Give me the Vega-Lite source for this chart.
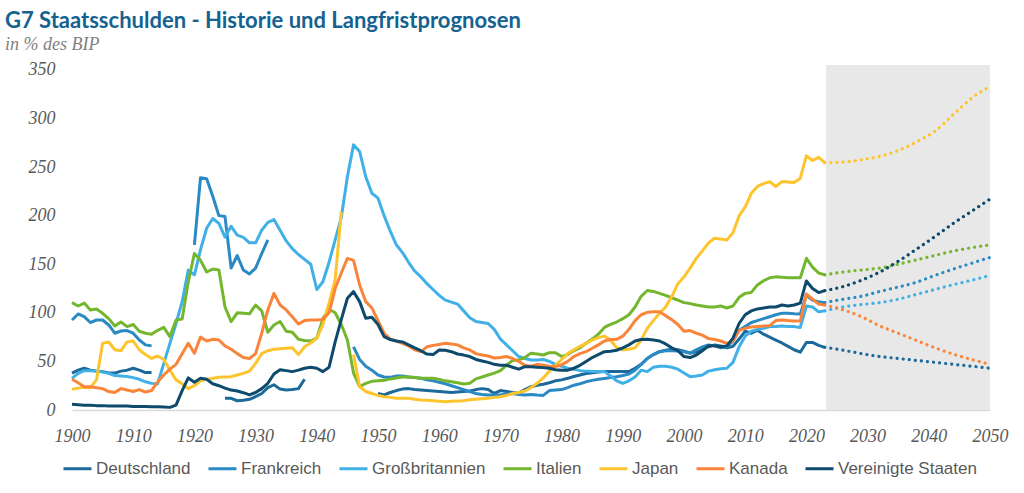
{
"$schema": "https://vega.github.io/schema/vega-lite/v6.json",
"width": 918, "height": 345,
"autosize": {"type": "none"},
"padding": {"left": 72, "top": 65, "right": 34, "bottom": 83},
"background": "white",
"title": {"text": "G7 Staatsschulden - Historie und Langfristprognosen", "subtitle": "in % des BIP", "anchor": "start", "frame": "group", "dx": -67, "offset": 6, "font": "Lato", "fontSize": 22, "fontWeight": "bold", "color": "#14628f", "subtitleFont": "Liberation Serif", "subtitleFontStyle": "italic", "subtitleFontSize": 18, "subtitleColor": "#7f7f7f", "subtitlePadding": 3},
"config": {"view": {"stroke": null}},
"datasets": {
"hist": [
{"Jahr":1900,"Deutschland":38,"Frankreich":92.6,"Großbritannien":32.6,"Italien":110.5,"Japan":21.3,"Kanada":31.6,"Vereinigte Staaten":6},
{"Jahr":1901,"Deutschland":41,"Frankreich":98.8,"Großbritannien":37.7,"Italien":107,"Japan":22.5,"Kanada":28,"Vereinigte Staaten":5.5},
{"Jahr":1902,"Deutschland":43,"Frankreich":96,"Großbritannien":40.5,"Italien":110,"Japan":23.3,"Kanada":24,"Vereinigte Staaten":5},
{"Jahr":1903,"Deutschland":41,"Frankreich":90,"Großbritannien":40.5,"Italien":103,"Japan":23,"Kanada":24,"Vereinigte Staaten":5},
{"Jahr":1904,"Deutschland":40,"Frankreich":92.6,"Großbritannien":40,"Italien":104,"Japan":31,"Kanada":23,"Vereinigte Staaten":4.5},
{"Jahr":1905,"Deutschland":39.5,"Frankreich":92.6,"Großbritannien":39,"Italien":99.5,"Japan":68.6,"Kanada":22,"Vereinigte Staaten":4.5},
{"Jahr":1906,"Deutschland":38,"Frankreich":87.5,"Großbritannien":37.7,"Italien":94,"Japan":70,"Kanada":19,"Vereinigte Staaten":4},
{"Jahr":1907,"Deutschland":38,"Frankreich":79,"Großbritannien":35.5,"Italien":86.5,"Japan":62,"Kanada":18,"Vereinigte Staaten":4},
{"Jahr":1908,"Deutschland":40,"Frankreich":81.3,"Großbritannien":35,"Italien":90.6,"Japan":61,"Kanada":22,"Vereinigte Staaten":4},
{"Jahr":1909,"Deutschland":41,"Frankreich":81.7,"Großbritannien":34.5,"Italien":85.8,"Japan":70,"Kanada":20.6,"Vereinigte Staaten":4},
{"Jahr":1910,"Deutschland":43,"Frankreich":79,"Großbritannien":33.3,"Italien":88,"Japan":71,"Kanada":19,"Vereinigte Staaten":3.5},
{"Jahr":1911,"Deutschland":41,"Frankreich":72,"Großbritannien":31.6,"Italien":81,"Japan":62,"Kanada":21,"Vereinigte Staaten":3.5},
{"Jahr":1912,"Deutschland":38.5,"Frankreich":67,"Großbritannien":29,"Italien":79,"Japan":57,"Kanada":18.5,"Vereinigte Staaten":3.5},
{"Jahr":1913,"Deutschland":38.5,"Frankreich":66,"Großbritannien":27.4,"Italien":78,"Japan":53,"Kanada":20,"Vereinigte Staaten":3.3},
{"Jahr":1914,"Deutschland":null,"Frankreich":null,"Großbritannien":27,"Italien":82,"Japan":55.6,"Kanada":29,"Vereinigte Staaten":3.3},
{"Jahr":1915,"Deutschland":null,"Frankreich":null,"Großbritannien":48,"Italien":85,"Japan":52,"Kanada":36,"Vereinigte Staaten":3},
{"Jahr":1916,"Deutschland":null,"Frankreich":null,"Großbritannien":68.6,"Italien":75.5,"Japan":41,"Kanada":42,"Vereinigte Staaten":2.7},
{"Jahr":1917,"Deutschland":null,"Frankreich":null,"Großbritannien":89,"Italien":92.6,"Japan":31,"Kanada":47,"Vereinigte Staaten":5},
{"Jahr":1918,"Deutschland":null,"Frankreich":null,"Großbritannien":111.5,"Italien":93.7,"Japan":27,"Kanada":58,"Vereinigte Staaten":20},
{"Jahr":1919,"Deutschland":null,"Frankreich":null,"Großbritannien":144,"Italien":132,"Japan":22,"Kanada":68.6,"Vereinigte Staaten":33},
{"Jahr":1920,"Deutschland":null,"Frankreich":170,"Großbritannien":139,"Italien":161,"Japan":25,"Kanada":58.3,"Vereinigte Staaten":28.5},
{"Jahr":1921,"Deutschland":null,"Frankreich":239,"Großbritannien":165,"Italien":154,"Japan":30,"Kanada":75,"Vereinigte Staaten":32.6},
{"Jahr":1922,"Deutschland":null,"Frankreich":238,"Großbritannien":187,"Italien":142,"Japan":31.5,"Kanada":71,"Vereinigte Staaten":31.6},
{"Jahr":1923,"Deutschland":null,"Frankreich":220,"Großbritannien":197,"Italien":145,"Japan":32.6,"Kanada":72.7,"Vereinigte Staaten":27},
{"Jahr":1924,"Deutschland":null,"Frankreich":200,"Großbritannien":192,"Italien":144,"Japan":33.6,"Kanada":72,"Vereinigte Staaten":25},
{"Jahr":1925,"Deutschland":12,"Frankreich":199,"Großbritannien":178,"Italien":106,"Japan":34,"Kanada":66,"Vereinigte Staaten":22.5},
{"Jahr":1926,"Deutschland":12,"Frankreich":146,"Großbritannien":189,"Italien":91,"Japan":34.3,"Kanada":62.5,"Vereinigte Staaten":20.5},
{"Jahr":1927,"Deutschland":9.5,"Frankreich":159,"Großbritannien":180,"Italien":100,"Japan":36,"Kanada":58,"Vereinigte Staaten":19.5},
{"Jahr":1928,"Deutschland":10,"Frankreich":144,"Großbritannien":177.7,"Italien":99.5,"Japan":37.7,"Kanada":54,"Vereinigte Staaten":17.8},
{"Jahr":1929,"Deutschland":11,"Frankreich":140,"Großbritannien":172,"Italien":99,"Japan":40,"Kanada":53,"Vereinigte Staaten":15.5},
{"Jahr":1930,"Deutschland":13.7,"Frankreich":146,"Großbritannien":172,"Italien":108,"Japan":48,"Kanada":58,"Vereinigte Staaten":18},
{"Jahr":1931,"Deutschland":17,"Frankreich":161,"Großbritannien":185,"Italien":102,"Japan":58,"Kanada":79,"Vereinigte Staaten":22},
{"Jahr":1932,"Deutschland":23,"Frankreich":175,"Großbritannien":193,"Italien":80,"Japan":61,"Kanada":103,"Vereinigte Staaten":27.5},
{"Jahr":1933,"Deutschland":26,"Frankreich":null,"Großbritannien":196,"Italien":87.5,"Japan":62.5,"Kanada":120,"Vereinigte Staaten":37},
{"Jahr":1934,"Deutschland":21.5,"Frankreich":null,"Großbritannien":185,"Italien":91,"Japan":63,"Kanada":108,"Vereinigte Staaten":41.5},
{"Jahr":1935,"Deutschland":20.6,"Frankreich":null,"Großbritannien":174,"Italien":81,"Japan":63.5,"Kanada":103,"Vereinigte Staaten":40.5},
{"Jahr":1936,"Deutschland":21,"Frankreich":null,"Großbritannien":166,"Italien":80,"Japan":64,"Kanada":96,"Vereinigte Staaten":39.5},
{"Jahr":1937,"Deutschland":22,"Frankreich":null,"Großbritannien":160,"Italien":72.7,"Japan":57,"Kanada":88.5,"Vereinigte Staaten":41},
{"Jahr":1938,"Deutschland":31.6,"Frankreich":null,"Großbritannien":155,"Italien":71.5,"Japan":65,"Kanada":92,"Vereinigte Staaten":43},
{"Jahr":1939,"Deutschland":null,"Frankreich":null,"Großbritannien":150,"Italien":71,"Japan":69,"Kanada":92.6,"Vereinigte Staaten":44},
{"Jahr":1940,"Deutschland":null,"Frankreich":null,"Großbritannien":124,"Italien":74,"Japan":73.8,"Kanada":92.6,"Vereinigte Staaten":43},
{"Jahr":1941,"Deutschland":null,"Frankreich":null,"Großbritannien":132,"Italien":94,"Japan":88,"Kanada":93,"Vereinigte Staaten":39.5},
{"Jahr":1942,"Deutschland":null,"Frankreich":null,"Großbritannien":152,"Italien":103.6,"Japan":110,"Kanada":100,"Vereinigte Staaten":44},
{"Jahr":1943,"Deutschland":null,"Frankreich":null,"Großbritannien":175,"Italien":100,"Japan":134,"Kanada":125,"Vereinigte Staaten":70},
{"Jahr":1944,"Deutschland":null,"Frankreich":null,"Großbritannien":198,"Italien":88,"Japan":204,"Kanada":141,"Vereinigte Staaten":93},
{"Jahr":1945,"Deutschland":null,"Frankreich":null,"Großbritannien":240,"Italien":72,"Japan":null,"Kanada":156,"Vereinigte Staaten":115},
{"Jahr":1946,"Deutschland":null,"Frankreich":65,"Großbritannien":272.8,"Italien":38,"Japan":57,"Kanada":154,"Vereinigte Staaten":121.8},
{"Jahr":1947,"Deutschland":null,"Frankreich":52,"Großbritannien":266,"Italien":24,"Japan":24,"Kanada":128.7,"Vereinigte Staaten":111.5},
{"Jahr":1948,"Deutschland":null,"Frankreich":45,"Großbritannien":240,"Italien":27.4,"Japan":19,"Kanada":111.5,"Vereinigte Staaten":94.4},
{"Jahr":1949,"Deutschland":null,"Frankreich":41,"Großbritannien":223,"Italien":29.5,"Japan":17,"Kanada":105,"Vereinigte Staaten":95.4},
{"Jahr":1950,"Deutschland":17,"Frankreich":36,"Großbritannien":218,"Italien":30,"Japan":15,"Kanada":92,"Vereinigte Staaten":88},
{"Jahr":1951,"Deutschland":15.5,"Frankreich":34,"Großbritannien":200,"Italien":30.5,"Japan":13.7,"Kanada":79,"Vereinigte Staaten":75.5},
{"Jahr":1952,"Deutschland":18,"Frankreich":33.6,"Großbritannien":184,"Italien":32,"Japan":13,"Kanada":73,"Vereinigte Staaten":72.5},
{"Jahr":1953,"Deutschland":20,"Frankreich":35,"Großbritannien":170,"Italien":33,"Japan":12,"Kanada":71,"Vereinigte Staaten":71},
{"Jahr":1954,"Deutschland":21.5,"Frankreich":35,"Großbritannien":162,"Italien":34,"Japan":12,"Kanada":68.6,"Vereinigte Staaten":70},
{"Jahr":1955,"Deutschland":22,"Frankreich":34,"Großbritannien":152,"Italien":34,"Japan":12,"Kanada":66,"Vereinigte Staaten":67},
{"Jahr":1956,"Deutschland":21,"Frankreich":33.5,"Großbritannien":143,"Italien":33.5,"Japan":11,"Kanada":62,"Vereinigte Staaten":64},
{"Jahr":1957,"Deutschland":20.5,"Frankreich":32.6,"Großbritannien":137,"Italien":32.6,"Japan":10.3,"Kanada":60,"Vereinigte Staaten":61},
{"Jahr":1958,"Deutschland":20,"Frankreich":31,"Großbritannien":130,"Italien":32.6,"Japan":10,"Kanada":65,"Vereinigte Staaten":57.5},
{"Jahr":1959,"Deutschland":19.5,"Frankreich":30,"Großbritannien":124,"Italien":32.6,"Japan":9.6,"Kanada":66.5,"Vereinigte Staaten":57},
{"Jahr":1960,"Deutschland":19,"Frankreich":28.5,"Großbritannien":118,"Italien":31.5,"Japan":9,"Kanada":67.5,"Vereinigte Staaten":61.8},
{"Jahr":1961,"Deutschland":18.5,"Frankreich":27,"Großbritannien":113,"Italien":30,"Japan":8.6,"Kanada":68.6,"Vereinigte Staaten":61.5},
{"Jahr":1962,"Deutschland":18,"Frankreich":25,"Großbritannien":111,"Italien":29,"Japan":9,"Kanada":68,"Vereinigte Staaten":60},
{"Jahr":1963,"Deutschland":18.5,"Frankreich":23,"Großbritannien":109,"Italien":28,"Japan":9.3,"Kanada":67,"Vereinigte Staaten":57.6},
{"Jahr":1964,"Deutschland":19,"Frankreich":21,"Großbritannien":102,"Italien":26.8,"Japan":9.6,"Kanada":64,"Vereinigte Staaten":56.5},
{"Jahr":1965,"Deutschland":19.5,"Frankreich":19,"Großbritannien":95,"Italien":27.5,"Japan":10.5,"Kanada":61.8,"Vereinigte Staaten":55},
{"Jahr":1966,"Deutschland":21,"Frankreich":17,"Großbritannien":91,"Italien":32,"Japan":11,"Kanada":58,"Vereinigte Staaten":52},
{"Jahr":1967,"Deutschland":22,"Frankreich":16,"Großbritannien":90,"Italien":34,"Japan":11.5,"Kanada":56.6,"Vereinigte Staaten":50.5},
{"Jahr":1968,"Deutschland":21,"Frankreich":15.4,"Großbritannien":89,"Italien":36,"Japan":12,"Kanada":55.6,"Vereinigte Staaten":49},
{"Jahr":1969,"Deutschland":17,"Frankreich":15.4,"Großbritannien":83,"Italien":38,"Japan":13,"Kanada":53.5,"Vereinigte Staaten":47},
{"Jahr":1970,"Deutschland":20,"Frankreich":15.4,"Großbritannien":73,"Italien":40.5,"Japan":13.7,"Kanada":54,"Vereinigte Staaten":46},
{"Jahr":1971,"Deutschland":19,"Frankreich":16.5,"Großbritannien":67,"Italien":46,"Japan":15,"Kanada":55,"Vereinigte Staaten":46},
{"Jahr":1972,"Deutschland":18,"Frankreich":17,"Großbritannien":61,"Italien":51,"Japan":17,"Kanada":53,"Vereinigte Staaten":44},
{"Jahr":1973,"Deutschland":17.5,"Frankreich":16,"Großbritannien":55,"Italien":51.5,"Japan":18,"Kanada":50,"Vereinigte Staaten":42},
{"Jahr":1974,"Deutschland":21,"Frankreich":15.4,"Großbritannien":53,"Italien":54,"Japan":19.5,"Kanada":46,"Vereinigte Staaten":44.6},
{"Jahr":1975,"Deutschland":24,"Frankreich":16,"Großbritannien":51.5,"Italien":58.5,"Japan":23,"Kanada":45,"Vereinigte Staaten":44.6},
{"Jahr":1976,"Deutschland":25.5,"Frankreich":15.4,"Großbritannien":51.5,"Italien":57.6,"Japan":27.5,"Kanada":47,"Vereinigte Staaten":44},
{"Jahr":1977,"Deutschland":26.5,"Frankreich":15,"Großbritannien":52,"Italien":56.6,"Japan":33,"Kanada":46,"Vereinigte Staaten":43.6},
{"Jahr":1978,"Deutschland":28,"Frankreich":20,"Großbritannien":50,"Italien":59,"Japan":40,"Kanada":45,"Vereinigte Staaten":43},
{"Jahr":1979,"Deutschland":30,"Frankreich":20.6,"Großbritannien":47,"Italien":59,"Japan":46,"Kanada":44.6,"Vereinigte Staaten":41.5},
{"Jahr":1980,"Deutschland":31,"Frankreich":21,"Großbritannien":45,"Italien":55,"Japan":52,"Kanada":46.5,"Vereinigte Staaten":41},
{"Jahr":1981,"Deutschland":32.6,"Frankreich":23,"Großbritannien":43,"Italien":57,"Japan":58,"Kanada":50,"Vereinigte Staaten":41},
{"Jahr":1982,"Deutschland":34.5,"Frankreich":25.5,"Großbritannien":42,"Italien":61,"Japan":62,"Kanada":55,"Vereinigte Staaten":43},
{"Jahr":1983,"Deutschland":36,"Frankreich":27,"Großbritannien":40.5,"Italien":64,"Japan":65.5,"Kanada":58,"Vereinigte Staaten":46},
{"Jahr":1984,"Deutschland":37.5,"Frankreich":29,"Großbritannien":40,"Italien":68.6,"Japan":68.6,"Kanada":60,"Vereinigte Staaten":50},
{"Jahr":1985,"Deutschland":38.4,"Frankreich":30.5,"Großbritannien":39.5,"Italien":73,"Japan":72,"Kanada":63.5,"Vereinigte Staaten":54},
{"Jahr":1986,"Deutschland":39,"Frankreich":31.6,"Großbritannien":39.5,"Italien":78,"Japan":74.5,"Kanada":67,"Vereinigte Staaten":57},
{"Jahr":1987,"Deutschland":39.5,"Frankreich":32.5,"Großbritannien":39.5,"Italien":85,"Japan":76,"Kanada":71,"Vereinigte Staaten":60},
{"Jahr":1988,"Deutschland":39.5,"Frankreich":33.5,"Großbritannien":35,"Italien":88,"Japan":72,"Kanada":72.5,"Vereinigte Staaten":60.5},
{"Jahr":1989,"Deutschland":39.5,"Frankreich":34.3,"Großbritannien":30,"Italien":90.5,"Japan":64,"Kanada":72.7,"Vereinigte Staaten":61.5},
{"Jahr":1990,"Deutschland":39.5,"Frankreich":35.5,"Großbritannien":27.4,"Italien":94,"Japan":62,"Kanada":76,"Vereinigte Staaten":64},
{"Jahr":1991,"Deutschland":39.5,"Frankreich":37,"Großbritannien":30,"Italien":98,"Japan":62.5,"Kanada":83,"Vereinigte Staaten":67},
{"Jahr":1992,"Deutschland":43,"Frankreich":41,"Großbritannien":34,"Italien":106,"Japan":64,"Kanada":92,"Vereinigte Staaten":71},
{"Jahr":1993,"Deutschland":47,"Frankreich":47,"Großbritannien":41,"Italien":117,"Japan":72,"Kanada":98,"Vereinigte Staaten":72.5},
{"Jahr":1994,"Deutschland":53,"Frankreich":53,"Großbritannien":39.5,"Italien":123,"Japan":84,"Kanada":100.5,"Vereinigte Staaten":72.7},
{"Jahr":1995,"Deutschland":57,"Frankreich":57,"Großbritannien":44,"Italien":122,"Japan":92,"Kanada":101,"Vereinigte Staaten":72},
{"Jahr":1996,"Deutschland":60,"Frankreich":60,"Großbritannien":45,"Italien":120,"Japan":99.5,"Kanada":101,"Vereinigte Staaten":71},
{"Jahr":1997,"Deutschland":61.5,"Frankreich":61,"Großbritannien":45,"Italien":118,"Japan":106,"Kanada":97,"Vereinigte Staaten":68},
{"Jahr":1998,"Deutschland":62.5,"Frankreich":61,"Großbritannien":44,"Italien":115.5,"Japan":116.7,"Kanada":93,"Vereinigte Staaten":64},
{"Jahr":1999,"Deutschland":62,"Frankreich":60.7,"Großbritannien":42,"Italien":113,"Japan":130,"Kanada":88,"Vereinigte Staaten":61},
{"Jahr":2000,"Deutschland":60.5,"Frankreich":60,"Großbritannien":38,"Italien":110.5,"Japan":137,"Kanada":81,"Vereinigte Staaten":55},
{"Jahr":2001,"Deutschland":58.5,"Frankreich":58.5,"Großbritannien":34.3,"Italien":109.5,"Japan":146,"Kanada":81.7,"Vereinigte Staaten":54},
{"Jahr":2002,"Deutschland":60,"Frankreich":62,"Großbritannien":35,"Italien":108,"Japan":156,"Kanada":79,"Vereinigte Staaten":56.6},
{"Jahr":2003,"Deutschland":63.5,"Frankreich":65,"Großbritannien":36,"Italien":107,"Japan":163.7,"Kanada":77,"Vereinigte Staaten":61},
{"Jahr":2004,"Deutschland":65,"Frankreich":67,"Großbritannien":40,"Italien":106,"Japan":172,"Kanada":73.5,"Vereinigte Staaten":66},
{"Jahr":2005,"Deutschland":67,"Frankreich":66,"Großbritannien":41.5,"Italien":106,"Japan":176.7,"Kanada":72.5,"Vereinigte Staaten":66},
{"Jahr":2006,"Deutschland":66,"Frankreich":64,"Großbritannien":42.5,"Italien":107,"Japan":176,"Kanada":71,"Vereinigte Staaten":65},
{"Jahr":2007,"Deutschland":64,"Frankreich":65,"Großbritannien":43,"Italien":105,"Japan":175,"Kanada":68.6,"Vereinigte Staaten":66},
{"Jahr":2008,"Deutschland":65.5,"Frankreich":71,"Großbritannien":49,"Italien":107,"Japan":182.5,"Kanada":71,"Vereinigte Staaten":74},
{"Jahr":2009,"Deutschland":73,"Frankreich":82,"Großbritannien":65,"Italien":116,"Japan":199.7,"Kanada":82,"Vereinigte Staaten":89},
{"Jahr":2010,"Deutschland":81,"Frankreich":86,"Großbritannien":76,"Italien":120,"Japan":209,"Kanada":84,"Vereinigte Staaten":98},
{"Jahr":2011,"Deutschland":79,"Frankreich":90,"Großbritannien":81,"Italien":121,"Japan":223,"Kanada":85.5,"Vereinigte Staaten":102},
{"Jahr":2012,"Deutschland":82,"Frankreich":92,"Großbritannien":83,"Italien":128.7,"Japan":230,"Kanada":86,"Vereinigte Staaten":104},
{"Jahr":2013,"Deutschland":78,"Frankreich":94,"Großbritannien":84,"Italien":133,"Japan":233,"Kanada":86.5,"Vereinigte Staaten":105},
{"Jahr":2014,"Deutschland":75,"Frankreich":96,"Großbritannien":85.8,"Italien":136,"Japan":235,"Kanada":86.8,"Vereinigte Staaten":106},
{"Jahr":2015,"Deutschland":72,"Frankreich":98,"Großbritannien":86,"Italien":137,"Japan":230,"Kanada":92,"Vereinigte Staaten":106},
{"Jahr":2016,"Deutschland":69,"Frankreich":99.5,"Großbritannien":86.5,"Italien":136.5,"Japan":235,"Kanada":92.6,"Vereinigte Staaten":108},
{"Jahr":2017,"Deutschland":65.5,"Frankreich":99.5,"Großbritannien":86,"Italien":136,"Japan":234.5,"Kanada":92,"Vereinigte Staaten":107},
{"Jahr":2018,"Deutschland":62,"Frankreich":99,"Großbritannien":85.8,"Italien":136,"Japan":234,"Kanada":91.6,"Vereinigte Staaten":108},
{"Jahr":2019,"Deutschland":59.5,"Frankreich":98.8,"Großbritannien":85,"Italien":136,"Japan":238.5,"Kanada":91.6,"Vereinigte Staaten":110},
{"Jahr":2020,"Deutschland":69.5,"Frankreich":118,"Großbritannien":107,"Italien":156,"Japan":261.5,"Kanada":119.4,"Vereinigte Staaten":132.8},
{"Jahr":2021,"Deutschland":69.5,"Frankreich":113,"Großbritannien":106,"Italien":147,"Japan":256.7,"Kanada":114,"Vereinigte Staaten":125},
{"Jahr":2022,"Deutschland":66.5,"Frankreich":111.5,"Großbritannien":101,"Italien":141,"Japan":260,"Kanada":109,"Vereinigte Staaten":120.8},
{"Jahr":2023,"Deutschland":64.5,"Frankreich":110.5,"Großbritannien":102,"Italien":139,"Japan":254.6,"Kanada":108,"Vereinigte Staaten":122.8}
],
"proj": [
{"Jahr":2023,"Deutschland":64.5,"Frankreich":110.5,"Großbritannien":102,"Italien":139,"Japan":254.6,"Kanada":108,"Vereinigte Staaten":122.8},
{"Jahr":2026,"Deutschland":61.5,"Frankreich":114,"Großbritannien":106,"Italien":142,"Japan":255,"Kanada":103,"Vereinigte Staaten":127},
{"Jahr":2029,"Deutschland":58,"Frankreich":117,"Großbritannien":108.5,"Italien":144,"Japan":257.5,"Kanada":96,"Vereinigte Staaten":133.5},
{"Jahr":2032,"Deutschland":55,"Frankreich":122,"Großbritannien":110.5,"Italien":146,"Japan":261,"Kanada":86.5,"Vereinigte Staaten":142},
{"Jahr":2035,"Deutschland":53,"Frankreich":126.5,"Großbritannien":114,"Italien":150,"Japan":267,"Kanada":79,"Vereinigte Staaten":153},
{"Jahr":2038,"Deutschland":51,"Frankreich":131.5,"Großbritannien":119,"Italien":154.5,"Japan":276,"Kanada":71.5,"Vereinigte Staaten":165.5},
{"Jahr":2041,"Deutschland":49,"Frankreich":138.5,"Großbritannien":124,"Italien":159,"Japan":287,"Kanada":64,"Vereinigte Staaten":178.5},
{"Jahr":2044,"Deutschland":47,"Frankreich":145,"Großbritannien":129,"Italien":163.5,"Japan":304,"Kanada":57.5,"Vereinigte Staaten":192},
{"Jahr":2047,"Deutschland":45,"Frankreich":151,"Großbritannien":133.5,"Italien":167,"Japan":321,"Kanada":52,"Vereinigte Staaten":204.5},
{"Jahr":2050,"Deutschland":43,"Frankreich":157,"Großbritannien":138.5,"Italien":170,"Japan":333,"Kanada":47,"Vereinigte Staaten":217}
]
},
"layer": [
{
"data": {"values": [{"von": 2023.2, "bis": 2050, "oben": 355, "unten": 0}]},
"mark": {"type": "rect", "color": "#e8e8e8"},
"encoding": {
"x": {"field": "von", "type": "quantitative", "scale": {"domain": [1900, 2050], "nice": false, "zero": false}},
"x2": {"field": "bis"},
"y": {"field": "oben", "type": "quantitative", "scale": {"domain": [0, 355], "nice": false}},
"y2": {"field": "unten"}
}
},
{
"data": {"name": "hist"},
"transform": [{"fold": ["Deutschland", "Frankreich", "Großbritannien", "Italien", "Japan", "Kanada", "Vereinigte Staaten"], "as": ["Land", "Wert"]}],
"mark": {"type": "line", "strokeWidth": 3, "strokeJoin": "round", "invalid": "break-paths-filter-domains"},
"encoding": {
"x": {"field": "Jahr", "type": "quantitative", "scale": {"domain": [1900, 2050], "nice": false, "zero": false},
"axis": {"values": [1900,1910,1920,1930,1940,1950,1960,1970,1980,1990,2000,2010,2020,2030,2040,2050], "format": "d", "title": null, "grid": false, "ticks": false, "labelFlush": false, "labelOverlap": false, "domainColor": "#d9d9d9", "domainWidth": 1.5, "labelFont": "Liberation Serif", "labelFontStyle": "italic", "labelFontSize": 18, "labelColor": "#595959", "labelPadding": 17}},
"y": {"field": "Wert", "type": "quantitative", "scale": {"domain": [0, 355], "nice": false},
"axis": {"values": [0,50,100,150,200,250,300,350], "title": null, "grid": false, "ticks": false, "domain": false, "labelFlush": false, "labelFont": "Liberation Serif", "labelFontStyle": "italic", "labelFontSize": 18, "labelColor": "#595959", "labelPadding": 17}},
"color": {"field": "Land", "type": "nominal",
"scale": {"domain": ["Deutschland", "Frankreich", "Großbritannien", "Italien", "Japan", "Kanada", "Vereinigte Staaten"], "range": ["#1b6a9a", "#2b89c3", "#40b0e6", "#74b72e", "#fec42d", "#fa853a", "#0d4a6b"]},
"legend": {"orient": "none", "legendX": -10, "legendY": 388, "direction": "horizontal", "title": null, "symbolType": "stroke", "symbolSize": 784, "symbolStrokeWidth": 3, "labelFont": "Liberation Sans", "labelFontSize": 17, "labelColor": "#595959", "labelOffset": 3, "columnPadding": 11}}
}
},
{
"data": {"name": "proj"},
"transform": [{"fold": ["Deutschland", "Frankreich", "Großbritannien", "Italien", "Japan", "Kanada", "Vereinigte Staaten"], "as": ["Land", "Wert"]}],
"mark": {"type": "line", "strokeWidth": 3.2, "strokeDash": [0.1, 6], "strokeCap": "round", "interpolate": "monotone"},
"encoding": {
"x": {"field": "Jahr", "type": "quantitative"},
"y": {"field": "Wert", "type": "quantitative"},
"color": {"field": "Land", "type": "nominal", "legend": null}
}
}
]
}
